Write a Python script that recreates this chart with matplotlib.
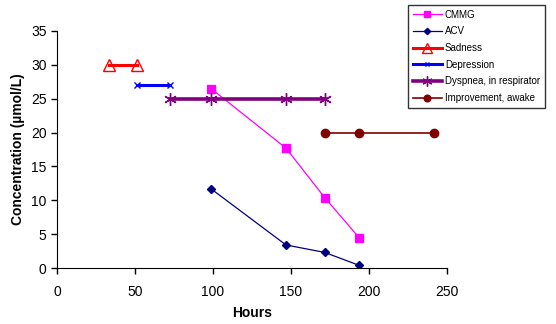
import matplotlib.pyplot as plt

plt.rcParams['font.family'] = ['Liberation Sans', 'DejaVu Sans']

# hours and concentrations
cmmg_h = [98.7, 146.8, 171.6, 193.6]
cmmg_c = [26.5, 17.7, 10.4, 4.5]
acv_h = [98.7, 146.8, 171.6, 193.6]
acv_c = [11.7, 3.4, 2.3, 0.4]
sad_h = [33.5, 51.0]
sad_c = [30, 30]
dep_h = [51.0, 72.5]
dep_c = [27, 27]
dysp_h = [72.5, 98.7, 146.8, 171.6]
dysp_c = [25, 25, 25, 25]
impr_h = [171.6, 193.6, 241.7]
impr_c = [20, 20, 20]

fig = plt.figure(figsize=(5.56, 3.24), dpi=100)
ax = fig.add_axes([57/556, 1 - 268/324, 390/556, 237/324])

ax.plot(cmmg_h, cmmg_c, color='#FF00FF', lw=0.9, marker='s', ms=5.5, label='CMMG')
ax.plot(acv_h, acv_c, color='#000080', lw=0.9, marker='D', ms=4, label='ACV')
ax.plot(sad_h, sad_c, color='#FF0000', lw=2.2, marker='^', ms=9, mfc='none', mew=1, label='Sadness')
ax.plot(dep_h, dep_c, color='#0000FF', lw=2.2, marker='x', ms=4, mew=1, label='Depression')
ax.plot(dysp_h, dysp_c, color='#800080', lw=2.6, marker=(6, 2, 0), ms=9, mew=1, label='Dyspnea, in respirator')
ax.plot(impr_h, impr_c, color='#800000', lw=1.2, marker='o', ms=6, label='Improvement, awake')

ax.set_xlim(0, 250)
ax.set_ylim(0, 35)
ax.set_xticks(range(0, 251, 50))
ax.set_yticks(range(0, 36, 5))
ax.spines['top'].set_visible(False)
ax.spines['right'].set_visible(False)
ax.tick_params(direction='out', length=4, width=1, labelsize=10)
ax.tick_params(axis='x', pad=8)
ax.set_xlabel('Hours', fontsize=10, fontweight='bold', labelpad=5)
ax.set_ylabel('Concentration (µmol/L)', fontsize=10, fontweight='bold')
for sp in ax.spines.values():
    sp.set_clip_on(False)

leg = fig.legend(loc='upper left', bbox_to_anchor=(408/556, 1 - 5/324), fontsize=7,
                 frameon=True, fancybox=False, borderpad=0.5, labelspacing=0.68,
                 handlelength=3, handletextpad=0.3, borderaxespad=0, markerscale=0.8)
leg.get_frame().set_edgecolor('black')
leg.get_frame().set_linewidth(1)

fig.savefig('out.png', dpi=100)
